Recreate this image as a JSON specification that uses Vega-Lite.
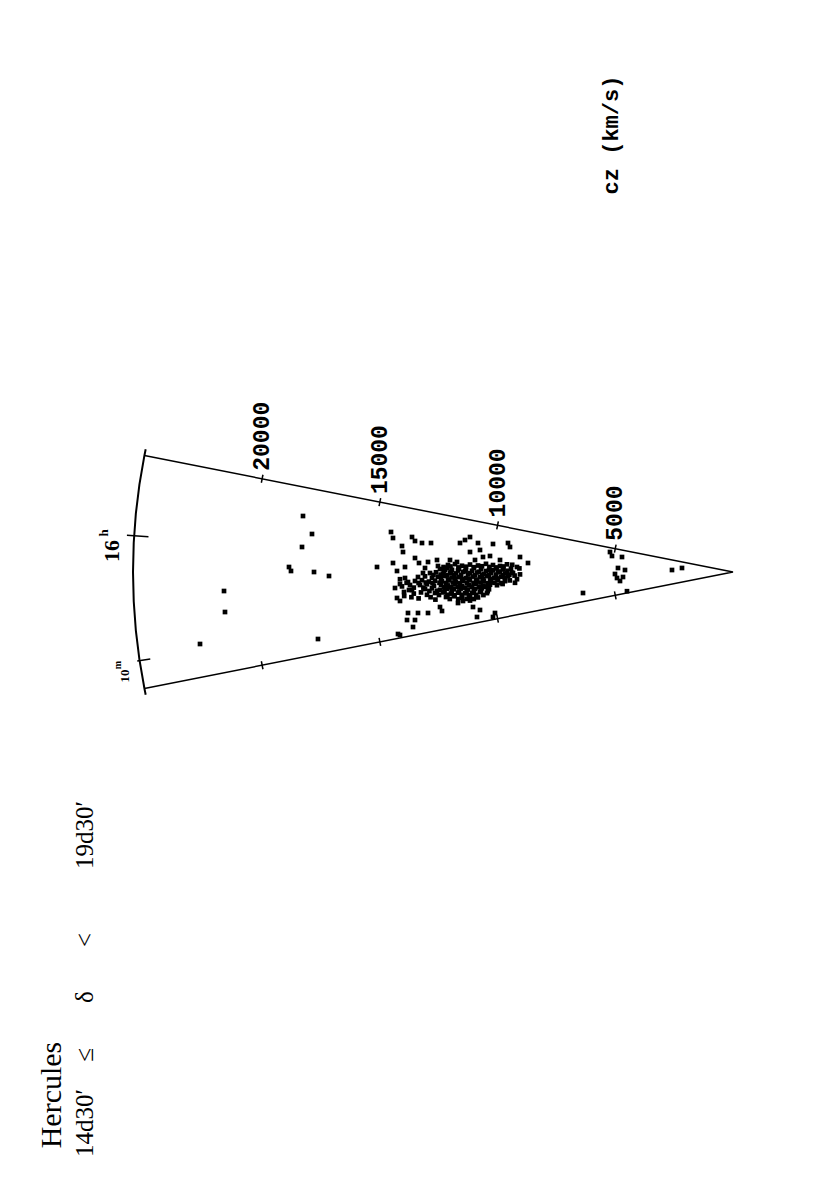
{
  "$schema": "https://vega.github.io/schema/vega-lite/v6.json",
  "width": 830,
  "height": 1186,
  "autosize": {"type": "none"},
  "padding": 0,
  "background": "white",
  "config": {"view": {"stroke": null}},
  "datasets": {
    "edges": [
      {"o": 0, "d": 24524, "t": 4856},
      {"o": 1, "d": 0, "t": 0},
      {"o": 2, "d": 24524, "t": -4856}
    ],
    "arc": [
      {"o": 0, "d": 24472, "t": -5112},
      {"o": 1, "d": 24524, "t": -4856},
      {"o": 2, "d": 24732, "t": -3652},
      {"o": 3, "d": 24881, "t": -2440},
      {"o": 4, "d": 24970, "t": -1221},
      {"o": 5, "d": 25000, "t": 0},
      {"o": 6, "d": 24970, "t": 1221},
      {"o": 7, "d": 24881, "t": 2440},
      {"o": 8, "d": 24732, "t": 3652},
      {"o": 9, "d": 24524, "t": 4856},
      {"o": 10, "d": 24472, "t": 5112}
    ],
    "ticks": [
      {"d": 4938, "t": 804, "d2": 4872, "t2": 1138},
      {"d": 9843, "t": 1775, "d2": 9777, "t2": 2109},
      {"d": 14747, "t": 2746, "d2": 14681, "t2": 3080},
      {"d": 19652, "t": 3718, "d2": 19586, "t2": 4052},
      {"d": 4938, "t": -804, "d2": 4872, "t2": -1138},
      {"d": 9843, "t": -1775, "d2": 9777, "t2": -2109},
      {"d": 14747, "t": -2746, "d2": 14681, "t2": -3080},
      {"d": 19652, "t": -3718, "d2": 19586, "t2": -4052},
      {"d": 24356, "t": 1473, "d2": 25254, "t2": 1527},
      {"d": 24280, "t": -3629, "d2": 24824, "t2": -3710}
    ],
    "galaxies": [
      {"d": 17917, "t": 2333}, {"d": 17542, "t": 1583}, {"d": 17958, "t": 1042}, {"d": 18500, "t": 208},
      {"d": 18417, "t": 42}, {"d": 17458, "t": 0}, {"d": 16833, "t": -167}, {"d": 21208, "t": -792},
      {"d": 21167, "t": -1667}, {"d": 22208, "t": -3000}, {"d": 17292, "t": -2792}, {"d": 14833, "t": 208},
      {"d": 13875, "t": -2625}, {"d": 14250, "t": 1667}, {"d": 14167, "t": 1417},
      {"d": 13792, "t": 1083}, {"d": 13750, "t": 833}, {"d": 13375, "t": 1458}, {"d": 13250, "t": 1292},
      {"d": 12958, "t": 1208}, {"d": 12583, "t": 1208}, {"d": 14167, "t": 375}, {"d": 14000, "t": 42},
      {"d": 13667, "t": 208}, {"d": 13250, "t": 583}, {"d": 13083, "t": 375}, {"d": 12708, "t": 417},
      {"d": 12333, "t": 500}, {"d": 12292, "t": 250}, {"d": 11375, "t": 1208}, {"d": 11167, "t": 1333},
      {"d": 10958, "t": 1458}, {"d": 10625, "t": 1208}, {"d": 10542, "t": 917}, {"d": 10000, "t": 1167},
      {"d": 9375, "t": 1208}, {"d": 9292, "t": 1042}, {"d": 10958, "t": 833}, {"d": 10417, "t": 625},
      {"d": 11500, "t": 417}, {"d": 8875, "t": 625}, {"d": 8542, "t": 375}, {"d": 9000, "t": 208},
      {"d": 9167, "t": -42}, {"d": 14083, "t": -667}, {"d": 14000, "t": -1083}, {"d": 13542, "t": -417},
      {"d": 13375, "t": -750}, {"d": 13875, "t": -1208}, {"d": 13542, "t": -1708}, {"d": 13250, "t": -2000},
      {"d": 13125, "t": -1708}, {"d": 13333, "t": -2292}, {"d": 12708, "t": -1708}, {"d": 12208, "t": -1458},
      {"d": 12125, "t": -1625}, {"d": 11458, "t": -1292}, {"d": 10833, "t": -1458}, {"d": 10542, "t": -1583},
      {"d": 10667, "t": -1875}, {"d": 10000, "t": -1875}, {"d": 9917, "t": -1708}, {"d": 13583, "t": -2000},
      {"d": 13958, "t": -2583}, {"d": 12000, "t": 83}, {"d": 12833, "t": 167}, {"d": 12917, "t": -42},
      {"d": 11875, "t": 292}, {"d": 11583, "t": 330}, {"d": 11292, "t": 260}, {"d": 10958, "t": 310},
      {"d": 10625, "t": 270}, {"d": 10292, "t": 340}, {"d": 10000, "t": 290}, {"d": 9708, "t": 250}, {"d": 9417, "t": 320},
      {"d": 12208, "t": 125}, {"d": 11917, "t": 160}, {"d": 11708, "t": 90}, {"d": 11417, "t": 140},
      {"d": 11125, "t": 100}, {"d": 10792, "t": 170}, {"d": 10500, "t": 120}, {"d": 10167, "t": 80},
      {"d": 9875, "t": 150}, {"d": 9583, "t": 110}, {"d": 9250, "t": 140},
      {"d": 12042, "t": 42}, {"d": 11750, "t": 20}, {"d": 11458, "t": 60}, {"d": 11167, "t": 30},
      {"d": 10875, "t": 50}, {"d": 10583, "t": 10}, {"d": 10292, "t": 40}, {"d": 10000, "t": 70}, {"d": 9708, "t": 20},
      {"d": 12625, "t": -42}, {"d": 12375, "t": -10}, {"d": 12083, "t": -70}, {"d": 11792, "t": -30},
      {"d": 11542, "t": -60}, {"d": 11250, "t": 0}, {"d": 10958, "t": -50}, {"d": 10667, "t": -20},
      {"d": 10375, "t": -80}, {"d": 10083, "t": -40}, {"d": 9792, "t": -10}, {"d": 9500, "t": -60}, {"d": 9208, "t": -30},
      {"d": 13125, "t": -208}, {"d": 12833, "t": -180}, {"d": 12542, "t": -240}, {"d": 12292, "t": -200},
      {"d": 12000, "t": -170}, {"d": 11708, "t": -230}, {"d": 11417, "t": -210}, {"d": 11125, "t": -250},
      {"d": 10833, "t": -190}, {"d": 10542, "t": -220}, {"d": 10250, "t": -170}, {"d": 9958, "t": -240},
      {"d": 9667, "t": -200}, {"d": 9375, "t": -180},
      {"d": 12167, "t": -292}, {"d": 11875, "t": -310}, {"d": 11583, "t": -270}, {"d": 11292, "t": -300},
      {"d": 11000, "t": -280}, {"d": 10708, "t": -320}, {"d": 10417, "t": -290}, {"d": 10125, "t": -300}, {"d": 9833, "t": -270},
      {"d": 13250, "t": -375}, {"d": 12958, "t": -340}, {"d": 12667, "t": -400}, {"d": 12417, "t": -360},
      {"d": 12125, "t": -390}, {"d": 11833, "t": -350}, {"d": 11542, "t": -410}, {"d": 11250, "t": -370},
      {"d": 10958, "t": -340}, {"d": 10667, "t": -390}, {"d": 10375, "t": -360}, {"d": 10083, "t": -400},
      {"d": 9792, "t": -350}, {"d": 9500, "t": -380},
      {"d": 13042, "t": -542}, {"d": 12750, "t": -510}, {"d": 12458, "t": -570}, {"d": 12167, "t": -530},
      {"d": 11875, "t": -560}, {"d": 11583, "t": -520}, {"d": 11292, "t": -580}, {"d": 11000, "t": -540},
      {"d": 10708, "t": -500}, {"d": 10417, "t": -560}, {"d": 10125, "t": -530}, {"d": 9833, "t": -550},
      {"d": 12042, "t": -625}, {"d": 11750, "t": -640}, {"d": 11458, "t": -610}, {"d": 11167, "t": -650},
      {"d": 10875, "t": -620}, {"d": 10583, "t": -640}, {"d": 10292, "t": -610},
      {"d": 12833, "t": -708}, {"d": 12542, "t": -680}, {"d": 12208, "t": -740}, {"d": 11917, "t": -700},
      {"d": 11625, "t": -720}, {"d": 11333, "t": -690}, {"d": 11042, "t": -730}, {"d": 10750, "t": -710},
      {"d": 10458, "t": -680}, {"d": 10167, "t": -720},
      {"d": 12417, "t": -875}, {"d": 12083, "t": -850}, {"d": 11750, "t": -900}, {"d": 11458, "t": -860},
      {"d": 11167, "t": -890}, {"d": 10875, "t": -870}, {"d": 10542, "t": -840}, {"d": 10250, "t": -880},
      {"d": 11958, "t": -1042}, {"d": 11625, "t": -1010}, {"d": 11292, "t": -1070}, {"d": 10958, "t": -1030}, {"d": 10625, "t": -1060},
      {"d": 11250, "t": -1208}, {"d": 10958, "t": -1190},
      {"d": 13667, "t": -250}, {"d": 13458, "t": -542}, {"d": 13708, "t": -833}, {"d": 11792, "t": 500},
      {"d": 10750, "t": 500}, {"d": 10125, "t": 667}, {"d": 9708, "t": 500},
      {"d": 8875, "t": -100}, {"d": 9000, "t": -300}, {"d": 9083, "t": -450},
      {"d": 13875, "t": -300}, {"d": 13792, "t": -600}, {"d": 13600, "t": -450}, {"d": 13500, "t": -750},
      {"d": 13300, "t": -900}, {"d": 13000, "t": -850}, {"d": 12750, "t": -950},
      {"d": 12060, "t": 208}, {"d": 11770, "t": 230}, {"d": 11440, "t": 190}, {"d": 11130, "t": 220},
      {"d": 10800, "t": 200}, {"d": 10460, "t": 240}, {"d": 10150, "t": 210}, {"d": 9850, "t": 190}, {"d": 9560, "t": 230},
      {"d": 12480, "t": -125}, {"d": 12180, "t": -110}, {"d": 11900, "t": -140}, {"d": 11620, "t": -120},
      {"d": 11330, "t": -130}, {"d": 11040, "t": -100}, {"d": 10750, "t": -140}, {"d": 10460, "t": -120},
      {"d": 10170, "t": -130}, {"d": 9880, "t": -110}, {"d": 9600, "t": -140}, {"d": 9320, "t": -120},
      {"d": 13100, "t": -458}, {"d": 12800, "t": -440}, {"d": 12520, "t": -470}, {"d": 12230, "t": -450},
      {"d": 11950, "t": -460}, {"d": 11670, "t": -440}, {"d": 11380, "t": -470}, {"d": 11090, "t": -450},
      {"d": 10810, "t": -460}, {"d": 10520, "t": -440}, {"d": 10230, "t": -470}, {"d": 9940, "t": -450}, {"d": 9650, "t": -460},
      {"d": 12650, "t": -792}, {"d": 12330, "t": -780}, {"d": 12020, "t": -800}, {"d": 11720, "t": -790},
      {"d": 11410, "t": -810}, {"d": 11100, "t": -780}, {"d": 10800, "t": -800}, {"d": 10500, "t": -790}, {"d": 10220, "t": -800},
      {"d": 12250, "t": -958}, {"d": 11900, "t": -950}, {"d": 11600, "t": -970}, {"d": 11300, "t": -955},
      {"d": 11000, "t": -965}, {"d": 10700, "t": -950}, {"d": 10400, "t": -960},
      {"d": 11800, "t": -1125}, {"d": 11450, "t": -1130}, {"d": 11100, "t": -1120}, {"d": 10800, "t": -1125},
      {"d": 13875, "t": -500}, {"d": 13700, "t": -1000}, {"d": 13400, "t": -1050}, {"d": 13100, "t": -1100},
      {"d": 12900, "t": -650}, {"d": 13300, "t": -650}, {"d": 12600, "t": -1050}, {"d": 12400, "t": -1150},
      {"d": 9500, "t": -250}, {"d": 9300, "t": -350}, {"d": 9100, "t": -150}, {"d": 9400, "t": 50},
      {"d": 9200, "t": 300}, {"d": 9600, "t": -500}, {"d": 8900, "t": 150},
      {"d": 5125, "t": 833}, {"d": 5042, "t": 667}, {"d": 4625, "t": 625}, {"d": 4792, "t": 167},
      {"d": 4500, "t": 83}, {"d": 4833, "t": -250}, {"d": 4583, "t": -208}, {"d": 4708, "t": -375},
      {"d": 4917, "t": -83}, {"d": 2542, "t": 83}, {"d": 2125, "t": 167}, {"d": 6250, "t": -875},
      {"d": 4417, "t": -800}
    ],
    "labels": [
      {"kind": "tick", "label": "\u00a05000", "d": 4905, "t": 971},
      {"kind": "tick", "label": "10000", "d": 9810, "t": 1942},
      {"kind": "tick", "label": "15000", "d": 14714, "t": 2913},
      {"kind": "tick", "label": "20000", "d": 19619, "t": 3885},
      {"kind": "unit", "label": "cz (km/s)", "d": 5083, "t": 18208},
      {"kind": "hour", "label": "16", "d": 25875, "t": 875},
      {"kind": "sup", "label": "h", "d": 26208, "t": 1625},
      {"kind": "min", "label": "10", "d": 25333, "t": -4333},
      {"kind": "sup2", "label": "m", "d": 25625, "t": -3875},
      {"kind": "title", "label": "Hercules", "d": 28375, "t": -21792},
      {"kind": "dec", "label": "14d30′", "d": 27000, "t": -22958},
      {"kind": "dec", "label": "≤", "d": 27000, "t": -20125},
      {"kind": "dec", "label": "δ", "d": 27000, "t": -17708},
      {"kind": "dec", "label": "<", "d": 27000, "t": -15333},
      {"kind": "dec", "label": "19d30′", "d": 27000, "t": -10958}
    ]
  },
  "encoding": {
    "x": {"field": "d", "type": "quantitative", "axis": null,
          "scale": {"domain": [-4042, 30542], "reverse": true, "nice": false, "zero": false}},
    "y": {"field": "t", "type": "quantitative", "axis": null,
          "scale": {"domain": [-25583, 23833], "nice": false, "zero": false}}
  },
  "layer": [
    {
      "data": {"name": "edges"},
      "mark": {"type": "line", "stroke": "black", "strokeWidth": 1.5},
      "encoding": {"order": {"field": "o", "type": "quantitative"}}
    },
    {
      "data": {"name": "arc"},
      "mark": {"type": "line", "stroke": "black", "strokeWidth": 2},
      "encoding": {"order": {"field": "o", "type": "quantitative"}}
    },
    {
      "data": {"name": "ticks"},
      "mark": {"type": "rule", "stroke": "black", "strokeWidth": 1.5},
      "encoding": {"x2": {"field": "d2"}, "y2": {"field": "t2"}}
    },
    {
      "data": {"name": "galaxies"},
      "mark": {"type": "point", "shape": "square", "filled": true, "color": "black", "opacity": 1, "size": 22}
    },
    {
      "data": {"name": "labels"},
      "transform": [{"filter": "datum.kind === 'tick'"}],
      "mark": {"type": "text", "font": "Liberation Mono", "fontWeight": "bold", "fontSize": 23, "angle": 270, "align": "left", "baseline": "middle", "dx": 8, "color": "black"},
      "encoding": {"text": {"field": "label"}}
    },
    {
      "data": {"name": "labels"},
      "transform": [{"filter": "datum.kind === 'unit'"}],
      "mark": {"type": "text", "font": "Liberation Mono", "fontWeight": "bold", "fontSize": 22, "angle": 270, "align": "center", "baseline": "middle", "color": "black"},
      "encoding": {"text": {"field": "label"}}
    },
    {
      "data": {"name": "labels"},
      "transform": [{"filter": "datum.kind === 'hour'"}],
      "mark": {"type": "text", "font": "Liberation Serif", "fontWeight": "bold", "fontSize": 22, "angle": 270, "align": "center", "baseline": "middle", "color": "black"},
      "encoding": {"text": {"field": "label"}}
    },
    {
      "data": {"name": "labels"},
      "transform": [{"filter": "datum.kind === 'sup'"}],
      "mark": {"type": "text", "font": "Liberation Serif", "fontWeight": "bold", "fontSize": 13, "angle": 270, "align": "center", "baseline": "middle", "color": "black"},
      "encoding": {"text": {"field": "label"}}
    },
    {
      "data": {"name": "labels"},
      "transform": [{"filter": "datum.kind === 'min'"}],
      "mark": {"type": "text", "font": "Liberation Serif", "fontWeight": "bold", "fontSize": 13, "angle": 270, "align": "center", "baseline": "middle", "color": "black"},
      "encoding": {"text": {"field": "label"}}
    },
    {
      "data": {"name": "labels"},
      "transform": [{"filter": "datum.kind === 'sup2'"}],
      "mark": {"type": "text", "font": "Liberation Serif", "fontWeight": "bold", "fontSize": 10, "angle": 270, "align": "center", "baseline": "middle", "color": "black"},
      "encoding": {"text": {"field": "label"}}
    },
    {
      "data": {"name": "labels"},
      "transform": [{"filter": "datum.kind === 'title'"}],
      "mark": {"type": "text", "font": "Liberation Serif", "fontSize": 30, "angle": 270, "align": "center", "baseline": "middle", "color": "black"},
      "encoding": {"text": {"field": "label"}}
    },
    {
      "data": {"name": "labels"},
      "transform": [{"filter": "datum.kind === 'dec'"}],
      "mark": {"type": "text", "font": "Liberation Serif", "fontSize": 25, "angle": 270, "align": "center", "baseline": "middle", "color": "black"},
      "encoding": {"text": {"field": "label"}}
    }
  ]
}
